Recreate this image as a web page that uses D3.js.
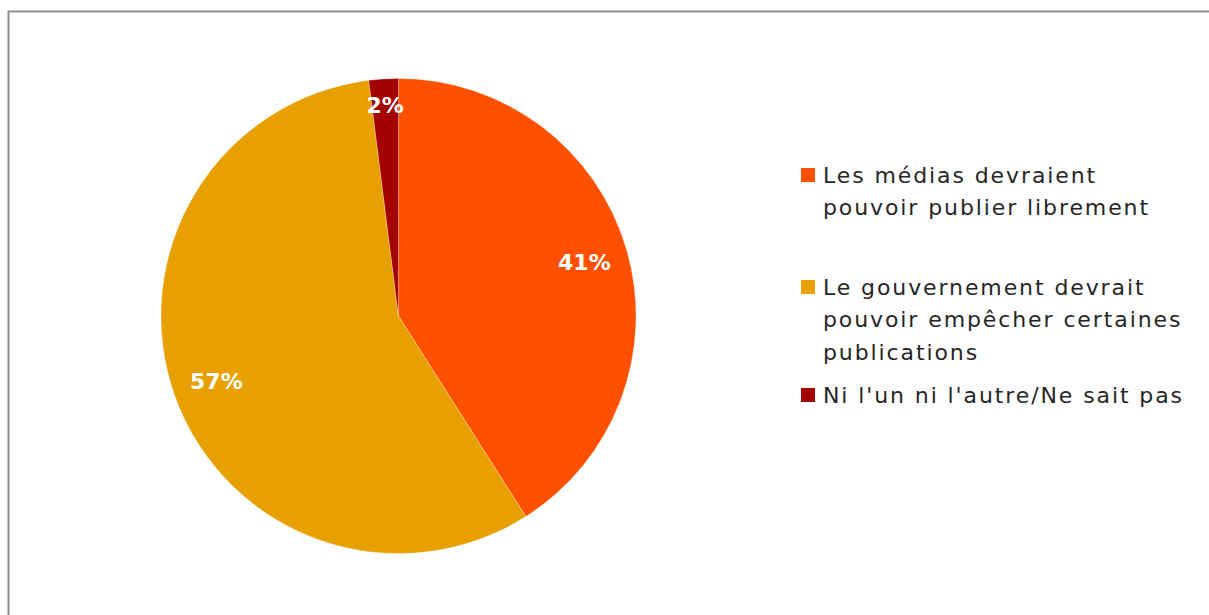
<!DOCTYPE html>
<html>
<head>
<meta charset="utf-8">
<script src="https://cdn.jsdelivr.net/npm/d3@7"></script>
<style>
  html, body { margin: 0; padding: 0; background: #fff; }
  svg { display: block; }
</style>
</head>
<body>
<svg id="chart" width="1209" height="615"></svg>
<script>
// Opinion: should the media publish freely, or may the government block some publications?
const categories = [
  "Les médias devraient pouvoir publier librement",
  "Le gouvernement devrait pouvoir empêcher certaines publications",
  "Ni l'un ni l'autre/Ne sait pas"
];
// Legend lines (wrapped as displayed)
const legendLines = [
  ["Les médias devraient", "pouvoir publier librement"],
  ["Le gouvernement devrait", "pouvoir empêcher certaines", "publications"],
  ["Ni l'un ni l'autre/Ne sait pas"]
];
const values = [41, 57, 2];
const colors = ["#FF5000", "#E8A000", "#A50000"];

const svg = d3.select("#chart");
const W = 1209, H = 615;

// chart frame
svg.append("rect")
  .attr("x", 8.5).attr("y", 11.5)
  .attr("width", W + 20).attr("height", H + 20)
  .attr("fill", "none")
  .attr("stroke", "#8e8e8e")
  .attr("stroke-width", 2);

const cx = 398.5, cy = 316, r = 237.5;

const pie = d3.pie().sort(null).value(d => d)(values);
const arc = d3.arc().innerRadius(0).outerRadius(r);
// thin slices get their label pushed further out
const labelRadius = d => (d.data < 5 ? 0.89 : 0.815) * r;

const g = svg.append("g").attr("transform", `translate(${cx},${cy})`);

g.selectAll("path.slice")
  .data(pie)
  .join("path")
  .attr("class", "slice")
  .attr("d", arc)
  .attr("fill", (d, i) => colors[i])
  .attr("stroke", "rgba(255,255,255,0.45)")
  .attr("stroke-width", 0.6);

g.selectAll("text.lbl")
  .data(pie)
  .join("text")
  .attr("class", "lbl")
  .attr("transform", d => {
    const lr = labelRadius(d);
    return `translate(${d3.arc().innerRadius(lr).outerRadius(lr).centroid(d)})`;
  })
  .attr("text-anchor", "middle")
  .attr("dy", "0.36em")
  .attr("fill", "#fff")
  .attr("font-family", "'DejaVu Sans', sans-serif")
  .attr("font-weight", "bold")
  .attr("font-size", 22)
  .text(d => d.data + "%");

// legend
const legend = svg.append("g").attr("transform", "translate(801,0)");
const entryTop = [175, 287, 395];
const lineH = 32.5;
legendLines.forEach((lines, i) => {
  const e = legend.append("g").attr("transform", `translate(0,${entryTop[i]})`);
  e.append("rect")
    .attr("x", 0).attr("y", -7)
    .attr("width", 14).attr("height", 14)
    .attr("fill", colors[i]);
  e.selectAll("text")
    .data(lines)
    .join("text")
    .attr("x", 22)
    .attr("y", (d, j) => j * lineH)
    .attr("dy", "0.36em")
    .attr("fill", "#262626")
    .attr("font-family", "'DejaVu Sans', sans-serif")
    .attr("font-size", 22)
    .attr("letter-spacing", 1.9)
    .text(d => d);
});
</script>
</body>
</html>
